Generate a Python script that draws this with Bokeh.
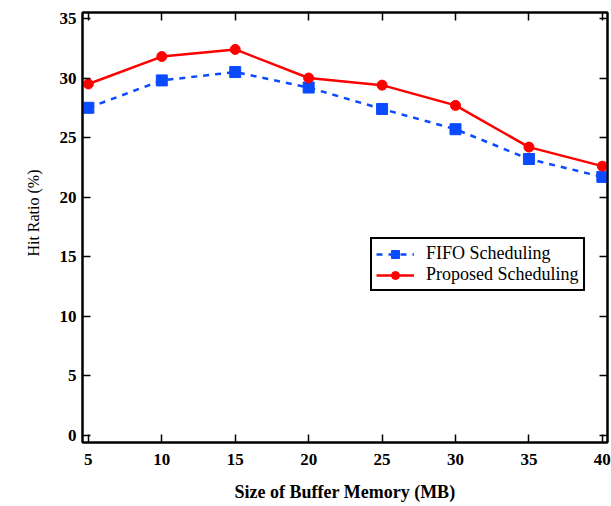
from bokeh.plotting import figure
from bokeh.models import FixedTicker, LinearAxis, Legend, LegendItem, Range1d, Title
from bokeh.embed import file_html
from bokeh.resources import INLINE

buffer_mb = [5, 10, 15, 20, 25, 30, 35, 40]
fifo = [27.5, 29.8, 30.5, 29.2, 27.4, 25.7, 23.2, 21.7]
proposed = [29.5, 31.8, 32.4, 30.0, 29.4, 27.7, 24.2, 22.6]
x_ticks = [5, 10, 15, 20, 25, 30, 35, 40]
y_ticks = [0, 5, 10, 15, 20, 25, 30, 35]

FONT = "'Liberation Serif', 'Times New Roman', serif"
BLUE = "#0a4bff"
RED = "#ff0000"

p = figure(width=611, height=506, output_backend="svg", toolbar_location=None,
           x_range=Range1d(4.6, 40.35), y_range=Range1d(-0.6, 35.5),
           min_border_left=82, min_border_right=4, min_border_top=12, min_border_bottom=64)
p.xgrid.visible = False
p.ygrid.visible = False
p.outline_line_color = "black"
p.outline_line_width = 2
p.background_fill_color = "white"
p.border_fill_color = "white"

def style(ax, labels=True):
    ax.major_tick_in = 8
    ax.major_tick_out = 0
    ax.minor_tick_line_color = None
    ax.axis_line_width = 2
    ax.major_tick_line_width = 1.5
    ax.major_label_text_font = FONT
    ax.major_label_text_font_style = "bold"
    ax.major_label_text_font_size = "17px"
    ax.major_label_text_color = "black"
    if not labels:
        ax.major_label_overrides = {t: "" for t in ax.ticker.ticks}
        ax.major_label_standoff = 0

p.xaxis.ticker = FixedTicker(ticks=x_ticks)
p.yaxis.ticker = FixedTicker(ticks=y_ticks)
style(p.xaxis[0])
style(p.yaxis[0])
p.xaxis.major_label_standoff = 11
p.yaxis.major_label_standoff = 6
p.xaxis.axis_label = "Size of Buffer Memory (MB)"
p.xaxis.axis_label_text_font = FONT
p.xaxis.axis_label_text_font_size = "18px"
p.xaxis.axis_label_text_color = "black"
p.xaxis.axis_label_text_font_style = "bold"
p.xaxis.axis_label_standoff = 14

ytitle = Title(text="Hit Ratio (%)", align="right", offset=157, standoff=26,
               vertical_align="top",
               text_font=FONT, text_font_size="16px", text_font_style="normal",
               text_color="black")
p.add_layout(ytitle, "left")

ra = LinearAxis(ticker=FixedTicker(ticks=y_ticks))
style(ra, labels=False)
p.add_layout(ra, "right")
ta = LinearAxis(ticker=FixedTicker(ticks=x_ticks))
style(ta, labels=False)
p.add_layout(ta, "above")

l1 = p.line(buffer_mb, fifo, line_color=BLUE, line_width=2.5, line_dash="6 6")
m1 = p.scatter(buffer_mb, fifo, marker="square", size=11, fill_color=BLUE, line_color=BLUE)
l2 = p.line(buffer_mb, proposed, line_color=RED, line_width=2.5)
m2 = p.scatter(buffer_mb, proposed, marker="circle", size=10, fill_color=RED, line_color=RED)

legend = Legend(items=[LegendItem(label="FIFO Scheduling", renderers=[l1, m1]),
                       LegendItem(label="Proposed Scheduling", renderers=[l2, m2])],
                location=(288, 151))
legend.label_text_font = FONT
legend.label_text_font_size = "18px"
legend.label_text_color = "black"
legend.border_line_color = "black"
legend.border_line_alpha = 1.0
legend.border_line_width = 2
legend.glyph_width = 38
legend.spacing = 0
legend.padding = 4
legend.margin = 0
legend.label_standoff = 12
legend.label_height = 20
legend.glyph_height = 20
p.add_layout(legend, "center")

open("out.html", "w").write(file_html(p, INLINE))
